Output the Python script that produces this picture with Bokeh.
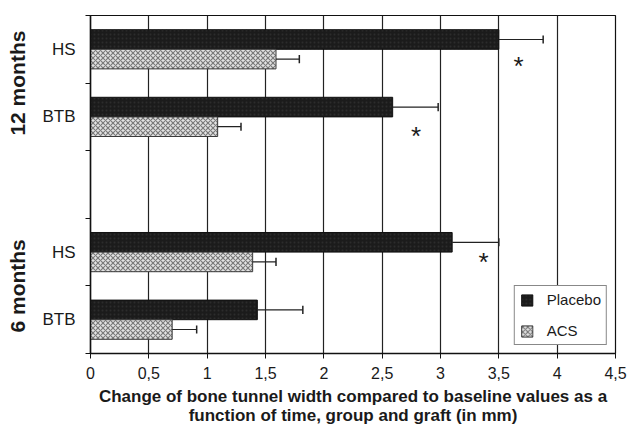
import math
from bokeh.plotting import figure
from bokeh.models import (Range1d, FixedTicker, Legend, LegendItem, LinearAxis,
                          ColumnDataSource, CustomJSTickFormatter)
from bokeh.embed import file_html
from bokeh.resources import INLINE
from bokeh.core.properties import value

# ---- data ----
periods = ["12 months", "12 months", "6 months", "6 months"]
grafts = ["HS", "BTB", "HS", "BTB"]
placebo = [3.50, 2.59, 3.10, 1.43]
placebo_sd = [0.38, 0.39, 0.40, 0.39]
acs = [1.59, 1.09, 1.39, 0.70]
acs_sd = [0.20, 0.20, 0.20, 0.21]
star_x = [3.67, 2.79, 3.37]
star_y = [4.26, 3.22, 1.36]
x_ticks = [0, 0.5, 1, 1.5, 2, 2.5, 3, 3.5, 4, 4.5]
group_titles = ["12 months", "6 months"]
x_title = ("Change of bone tunnel width compared to baseline values as a\n"
           "function of time, group and graft (in mm)")

# ---- layout helpers ----
n_slots = 5
slot_center = [n_slots - 0.5 - i - (1 if i >= 2 else 0) for i in range(len(grafts))]
group_center = [4.0, 1.0]
bar_h = 0.29
y_plc = [c + bar_h / 2 for c in slot_center]
y_acs = [c - bar_h / 2 for c in slot_center]

FONT = "Liberation Sans"
TXT = "#1a1a1a"

p = figure(width=628, height=429, output_backend="svg", toolbar_location=None,
           x_range=Range1d(0, 4.5), y_range=Range1d(0, n_slots),
           min_border_left=90, min_border_right=13, min_border_top=15,
           min_border_bottom=76)
p.outline_line_color = "#111111"
p.outline_line_width = 1.2
p.background_fill_color = "white"
p.border_fill_color = "white"

# grid
p.ygrid.grid_line_color = None
p.xgrid.ticker = FixedTicker(ticks=x_ticks)
p.xgrid.grid_line_color = "#222222"
p.xgrid.grid_line_width = 1.2

# x axis
p.xaxis.ticker = FixedTicker(ticks=x_ticks)
p.xaxis.formatter = CustomJSTickFormatter(code="return tick.toString().replace('.', ',');")
p.xaxis.axis_line_color = "#111111"
p.xaxis.axis_line_width = 1.5
p.xaxis.major_tick_line_color = "#111111"
p.xaxis.major_tick_out = 5
p.xaxis.major_tick_in = 0
p.xaxis.minor_tick_line_color = None
p.xaxis.major_label_text_font = FONT
p.xaxis.major_label_text_font_size = "16px"
p.xaxis.major_label_text_color = TXT
p.xaxis.major_label_standoff = 8
p.xaxis.axis_label = x_title
p.xaxis.axis_label_text_font = FONT
p.xaxis.axis_label_text_font_style = "bold"
p.xaxis.axis_label_text_font_size = "17px"
p.xaxis.axis_label_text_line_height = 1.05
p.xaxis.axis_label_text_color = TXT
p.xaxis.axis_label_standoff = 5

# y axis: labels at slot centers, small ticks at slot borders
p.yaxis.ticker = FixedTicker(ticks=slot_center, minor_ticks=list(range(n_slots + 1)))
p.yaxis.formatter = CustomJSTickFormatter(
    args=dict(pos=slot_center, names=grafts),
    code="const i = pos.indexOf(tick); return i >= 0 ? names[i] : '';")
p.yaxis.axis_line_color = "#111111"
p.yaxis.axis_line_width = 1.5
p.yaxis.major_tick_line_color = None
p.yaxis.major_tick_out = 0
p.yaxis.major_tick_in = 0
p.yaxis.minor_tick_line_color = "#111111"
p.yaxis.minor_tick_out = 5
p.yaxis.minor_tick_in = 0
p.yaxis.major_label_text_font = FONT
p.yaxis.major_label_text_font_size = "17px"
p.yaxis.major_label_text_color = TXT
p.yaxis.major_label_standoff = 10

# outer left axis carrying the period titles
gaxis = LinearAxis(ticker=FixedTicker(ticks=group_center),
                   formatter=CustomJSTickFormatter(
                       args=dict(pos=group_center, names=group_titles),
                       code="const i = pos.indexOf(tick); return i >= 0 ? names[i] : '';"),
                   axis_line_color=None, major_tick_line_color=None,
                   minor_tick_line_color=None, major_tick_out=0, major_tick_in=0,
                   major_label_orientation="vertical", major_label_standoff=10,
                   major_label_text_font=FONT, major_label_text_font_style="bold",
                   major_label_text_font_size="21px", major_label_text_color=TXT)
p.add_layout(gaxis, "left")

# bars
src = ColumnDataSource(dict(y_plc=y_plc, y_acs=y_acs, placebo=placebo, acs=acs))
r_plc = p.hbar(y="y_plc", right="placebo", left=0, height=bar_h, source=src,
               fill_color="#1b1b1b", line_color="#111111", line_width=1,
               hatch_pattern="dot", hatch_color="#2c2c2c", hatch_scale=4,
               hatch_weight=1)
r_acs = p.hbar(y="y_acs", right="acs", left=0, height=bar_h, source=src,
               fill_color="#e2e2e2", line_color="#3a3a3a", line_width=1,
               hatch_pattern="x", hatch_color="#7a7a7a", hatch_scale=5,
               hatch_weight=1.2)

# error bars (upper only)
cap = 0.06
for vals, sds, ys in ((placebo, placebo_sd, y_plc), (acs, acs_sd, y_acs)):
    ends = [v + s for v, s in zip(vals, sds)]
    p.segment(x0=vals, x1=ends, y0=ys, y1=ys, line_color="#222222", line_width=1.2)
    p.segment(x0=ends, x1=ends, y0=[y - cap for y in ys], y1=[y + cap for y in ys],
              line_color="#222222", line_width=1.5)

# significance stars
p.text(x=star_x, y=star_y, text=["*"] * len(star_x), text_font=value(FONT),
       text_font_size="26px", text_align="center", text_baseline="middle",
       text_color=TXT)

legend = Legend(items=[LegendItem(label="Placebo", renderers=[r_plc]),
                       LegendItem(label="ACS", renderers=[r_acs])],
                location="bottom_right", margin=8, padding=5, spacing=14,
                glyph_width=14, glyph_height=14, label_height=14,
                label_standoff=13, label_text_font=FONT,
                label_text_font_size="15px", label_text_color=TXT,
                border_line_color="#111111", border_line_width=1.2,
                background_fill_color="white", background_fill_alpha=1)
p.add_layout(legend)

open("out.html", "w").write(file_html(p, INLINE))
